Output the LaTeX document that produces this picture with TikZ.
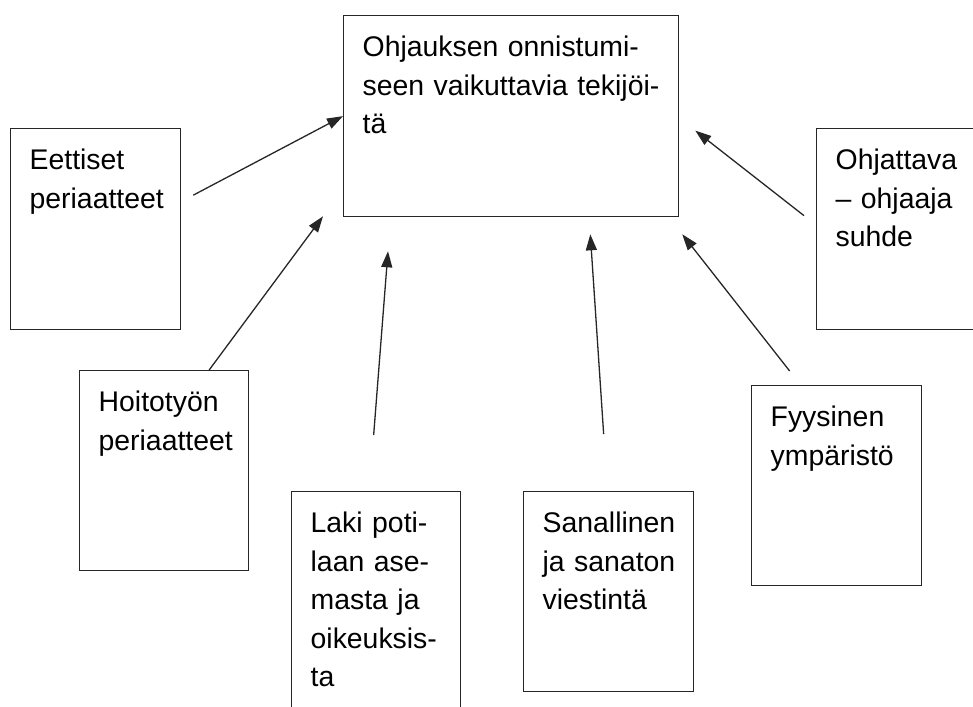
\documentclass[tikz,border=0pt]{standalone}
\usepackage{fontspec}
\setmainfont{Liberation Sans}
\usetikzlibrary{arrows.meta}
\hyphenpenalty=10000

\begin{document}
\begin{tikzpicture}[x=1pt, y=-1pt,
    fbox/.style 2 args={draw=black!85, line width=1.3pt, anchor=north west,
        inner xsep=19pt, inner ysep=14pt, align=left,
        text width=#1, text height=27pt, text depth=#2,
        font=\fontsize{28.4}{38.5}\selectfont},
    arr/.style={draw=black!85, line width=1.3pt, -{Triangle[length=16pt,width=11pt]}}]
        \useasboundingbox (0,0) rectangle (973,706);
        \clip (0,0) rectangle (973,706);

        \node[fbox={297pt}{146pt}] (ohjaus) at (343,15) {Ohjauksen~onnistumi-\\seen~vaikuttavia~tekijöi-\\tä};
        \node[fbox={132pt}{146pt}] (eettiset) at (10,128) {Eettiset\\periaatteet};
        \node[fbox={131pt}{145pt}] (hoitotyo) at (79,370) {Hoitotyön\\periaatteet};
        \node[fbox={131pt}{175pt}] (laki) at (291,491) {Laki~poti-\\laan~ase-\\masta~ja\\oikeuksis-\\ta};
        \node[fbox={132pt}{145pt}] (viestinta) at (523,491) {Sanallinen\\ja~sanaton\\viestintä};
        \node[fbox={132pt}{145pt}] (ymparisto) at (751,385) {Fyysinen\\ympäristö};
        \node[fbox={132pt}{146pt}] (suhde) at (816,128) {Ohjattava\\–~ohjaaja\\suhde};

        \draw[arr] ([shift={(12,-34)}]eettiset.east) -- (ohjaus.west);
        \draw[arr] ([xshift=45pt]hoitotyo.north) -- ([shift={(-20,-1)}]ohjaus.south west);
        \draw[arr] ([shift={(-2.5,-56)}]laki.north) -- ([shift={(45,34)}]ohjaus.south west);
        \draw[arr] ([shift={(-5,-57)}]viestinta.north) -- ([shift={(-89,17)}]ohjaus.south east);
        \draw[arr] ([shift={(-47,-14)}]ymparisto.north) -- ([shift={(3,17)}]ohjaus.south east);
        \draw[arr] ([shift={(-12,-13.5)}]suhde.west) -- ([shift={(16,14.5)}]ohjaus.east);
    \end{tikzpicture}
\end{document}
